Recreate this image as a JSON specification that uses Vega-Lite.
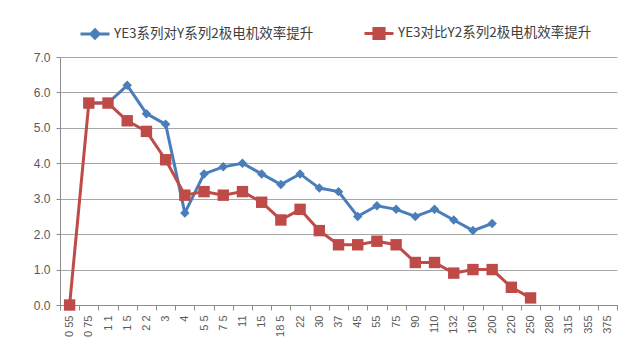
{
  "$schema": "https://vega.github.io/schema/vega-lite/v6.json",
  "autosize": "none",
  "width": 557,
  "height": 248,
  "padding": {"left": 60, "top": 57, "right": 23, "bottom": 53},
  "background": "white",
  "config": {
    "view": {"stroke": null},
    "font": "Liberation Sans"
  },
  "data": {
    "values": [
      {"size": "0 75", "series": "YE3系列对Y系列2极电机效率提升", "value": 5.7},
      {"size": "1 1", "series": "YE3系列对Y系列2极电机效率提升", "value": 5.7},
      {"size": "1 5", "series": "YE3系列对Y系列2极电机效率提升", "value": 6.2},
      {"size": "2 2", "series": "YE3系列对Y系列2极电机效率提升", "value": 5.4},
      {"size": "3", "series": "YE3系列对Y系列2极电机效率提升", "value": 5.1},
      {"size": "4", "series": "YE3系列对Y系列2极电机效率提升", "value": 2.6},
      {"size": "5 5", "series": "YE3系列对Y系列2极电机效率提升", "value": 3.7},
      {"size": "7 5", "series": "YE3系列对Y系列2极电机效率提升", "value": 3.9},
      {"size": "11", "series": "YE3系列对Y系列2极电机效率提升", "value": 4.0},
      {"size": "15", "series": "YE3系列对Y系列2极电机效率提升", "value": 3.7},
      {"size": "18 5", "series": "YE3系列对Y系列2极电机效率提升", "value": 3.4},
      {"size": "22", "series": "YE3系列对Y系列2极电机效率提升", "value": 3.7},
      {"size": "30", "series": "YE3系列对Y系列2极电机效率提升", "value": 3.3},
      {"size": "37", "series": "YE3系列对Y系列2极电机效率提升", "value": 3.2},
      {"size": "45", "series": "YE3系列对Y系列2极电机效率提升", "value": 2.5},
      {"size": "55", "series": "YE3系列对Y系列2极电机效率提升", "value": 2.8},
      {"size": "75", "series": "YE3系列对Y系列2极电机效率提升", "value": 2.7},
      {"size": "90", "series": "YE3系列对Y系列2极电机效率提升", "value": 2.5},
      {"size": "110", "series": "YE3系列对Y系列2极电机效率提升", "value": 2.7},
      {"size": "132", "series": "YE3系列对Y系列2极电机效率提升", "value": 2.4},
      {"size": "160", "series": "YE3系列对Y系列2极电机效率提升", "value": 2.1},
      {"size": "200", "series": "YE3系列对Y系列2极电机效率提升", "value": 2.3},
      {"size": "0 55", "series": "YE3对比Y2系列2极电机效率提升", "value": 0.0},
      {"size": "0 75", "series": "YE3对比Y2系列2极电机效率提升", "value": 5.7},
      {"size": "1 1", "series": "YE3对比Y2系列2极电机效率提升", "value": 5.7},
      {"size": "1 5", "series": "YE3对比Y2系列2极电机效率提升", "value": 5.2},
      {"size": "2 2", "series": "YE3对比Y2系列2极电机效率提升", "value": 4.9},
      {"size": "3", "series": "YE3对比Y2系列2极电机效率提升", "value": 4.1},
      {"size": "4", "series": "YE3对比Y2系列2极电机效率提升", "value": 3.1},
      {"size": "5 5", "series": "YE3对比Y2系列2极电机效率提升", "value": 3.2},
      {"size": "7 5", "series": "YE3对比Y2系列2极电机效率提升", "value": 3.1},
      {"size": "11", "series": "YE3对比Y2系列2极电机效率提升", "value": 3.2},
      {"size": "15", "series": "YE3对比Y2系列2极电机效率提升", "value": 2.9},
      {"size": "18 5", "series": "YE3对比Y2系列2极电机效率提升", "value": 2.4},
      {"size": "22", "series": "YE3对比Y2系列2极电机效率提升", "value": 2.7},
      {"size": "30", "series": "YE3对比Y2系列2极电机效率提升", "value": 2.1},
      {"size": "37", "series": "YE3对比Y2系列2极电机效率提升", "value": 1.7},
      {"size": "45", "series": "YE3对比Y2系列2极电机效率提升", "value": 1.7},
      {"size": "55", "series": "YE3对比Y2系列2极电机效率提升", "value": 1.8},
      {"size": "75", "series": "YE3对比Y2系列2极电机效率提升", "value": 1.7},
      {"size": "90", "series": "YE3对比Y2系列2极电机效率提升", "value": 1.2},
      {"size": "110", "series": "YE3对比Y2系列2极电机效率提升", "value": 1.2},
      {"size": "132", "series": "YE3对比Y2系列2极电机效率提升", "value": 0.9},
      {"size": "160", "series": "YE3对比Y2系列2极电机效率提升", "value": 1.0},
      {"size": "200", "series": "YE3对比Y2系列2极电机效率提升", "value": 1.0},
      {"size": "220", "series": "YE3对比Y2系列2极电机效率提升", "value": 0.5},
      {"size": "250", "series": "YE3对比Y2系列2极电机效率提升", "value": 0.2}
    ]
  },
  "encoding": {
    "x": {
      "field": "size",
      "type": "nominal",
      "bandPosition": 0.5,
      "scale": {
        "type": "band",
        "paddingInner": 0,
        "paddingOuter": 0,
        "domain": ["0 55", "0 75", "1 1", "1 5", "2 2", "3", "4", "5 5", "7 5", "11", "15", "18 5", "22", "30", "37", "45", "55", "75", "90", "110", "132", "160", "200", "220", "250", "280", "315", "355", "375"]
      },
      "axis": {
        "title": null,
        "labelAngle": -90,
        "labelAlign": "right",
        "labelBaseline": "middle",
        "labelFontSize": 11,
        "labelColor": "#595959",
        "labelPadding": 5,
        "domainColor": "#8c8c8c",
        "tickColor": "#8c8c8c",
        "tickBand": "extent",
        "tickSize": 5,
        "grid": false
      }
    },
    "y": {
      "field": "value",
      "type": "quantitative",
      "scale": {"domain": [0, 7], "nice": false},
      "axis": {
        "title": null,
        "values": [0, 1, 2, 3, 4, 5, 6, 7],
        "format": ".1f",
        "labelFontSize": 12,
        "labelColor": "#595959",
        "labelPadding": 6,
        "domainColor": "#8c8c8c",
        "tickColor": "#8c8c8c",
        "tickSize": 4,
        "gridColor": "#a6a6a6",
        "gridWidth": 1
      }
    },
    "color": {
      "field": "series",
      "type": "nominal",
      "scale": {
        "domain": ["YE3系列对Y系列2极电机效率提升", "YE3对比Y2系列2极电机效率提升"],
        "range": ["#4a7ebb", "#be4b48"]
      },
      "legend": {
        "title": null,
        "orient": "none",
        "direction": "horizontal",
        "legendX": 19,
        "legendY": -40,
        "labelFont": "Noto Sans CJK SC",
        "labelFontSize": 13.5,
        "labelColor": "#404040",
        "labelOffset": 3,
        "symbolSize": 841,
        "columnPadding": 44,
        "labelLimit": 400,
        "encode": {
          "symbols": {
            "update": {
              "shape": {"signal": "datum.value === 'YE3系列对Y系列2极电机效率提升' ? 'M-1,0L1,0M0,-0.28L0.28,0L0,0.28L-0.28,0Z' : 'M-1,0L1,0M-0.35,-0.35L0.35,-0.35L0.35,0.35L-0.35,0.35Z'"},
              "fill": {"signal": "datum.value === 'YE3系列对Y系列2极电机效率提升' ? '#4a7ebb' : '#be4b48'"},
              "stroke": {"signal": "datum.value === 'YE3系列对Y系列2极电机效率提升' ? '#4a7ebb' : '#be4b48'"},
              "strokeWidth": {"value": 3},
              "opacity": {"value": 1}
            }
          }
        }
      }
    }
  },
  "layer": [
    {
      "mark": {"type": "line", "strokeWidth": 3}
    },
    {
      "transform": [{"filter": "datum.series === 'YE3系列对Y系列2极电机效率提升'"}],
      "mark": {"type": "point", "filled": true, "opacity": 1, "shape": "diamond", "size": 90}
    },
    {
      "transform": [{"filter": "datum.series === 'YE3对比Y2系列2极电机效率提升'"}],
      "mark": {"type": "point", "filled": true, "opacity": 1, "shape": "square", "size": 130}
    }
  ]
}
